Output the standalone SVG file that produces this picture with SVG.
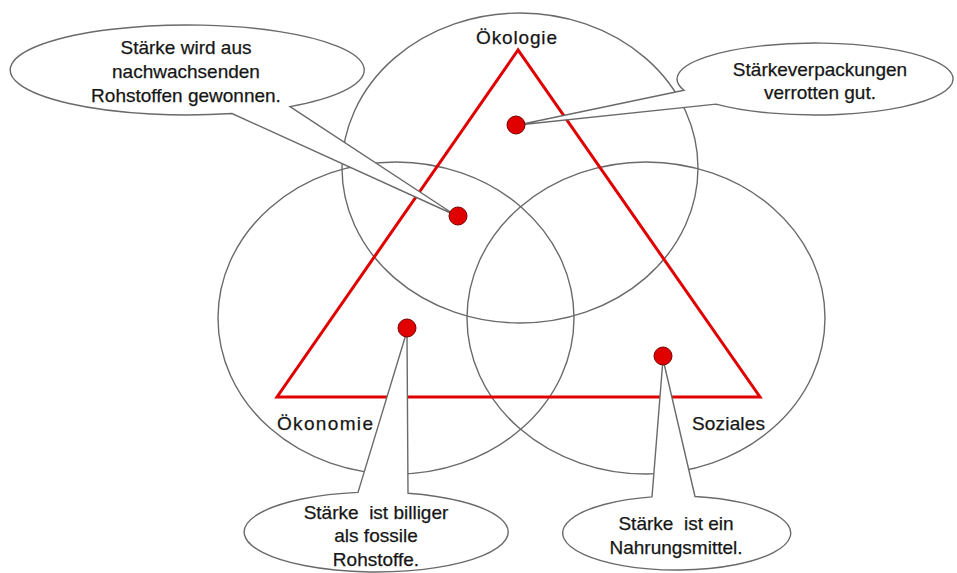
<svg xmlns="http://www.w3.org/2000/svg" width="957" height="573" viewBox="0 0 957 573">
<style>
.circ{fill:none;stroke:#6a6a6a;stroke-width:1.4}
.tri{fill:none;stroke:#e00000;stroke-width:3;stroke-linejoin:miter}
.call{fill:#fff;stroke:#6a6a6a;stroke-width:1.4;stroke-linejoin:miter}
.dot{fill:#e00000;stroke:#7a0000;stroke-width:1}
text{font-family:"Liberation Sans",Arial,sans-serif;font-size:19px;fill:#161616;stroke:#161616;stroke-width:0.25}
.c{text-anchor:middle}
</style>
<rect width="957" height="573" fill="#fff"/>
<g id="circles">
<ellipse id="circle-oekologie" class="circ" cx="520" cy="168" rx="178" ry="155"/>
<ellipse id="circle-oekonomie" class="circ" cx="396" cy="318" rx="178" ry="156"/>
<ellipse id="circle-soziales" class="circ" cx="646" cy="318" rx="179" ry="156"/>
</g>
<g id="triangle">
<polygon class="tri" points="518,50 277,397 760,397"/>
</g>
<g id="labels">
<text id="label-oekologie" x="476" y="44" textLength="81">Ökologie</text>
<text id="label-oekonomie" x="277" y="430" textLength="96">Ökonomie</text>
<text id="label-soziales" x="692" y="430" textLength="73">Soziales</text>
</g>
<g id="connectors">
<path id="callout1" class="call" d="M 290 106.6 L 455 215 L 232 113.5 A 177 45 0 1 1 290 106.6 Z"/>
<path id="callout2" class="call" d="M 684 90.3 L 518 125 L 716 104.1 A 138 36 0 1 0 684 90.3 Z"/>
<path id="callout3" class="call" d="M 358 492.4 L 407 331 L 408 493.2 A 132 40 0 1 1 358 492.4 Z"/>
<path id="callout4" class="call" d="M 652 496.9 L 663 359 L 695 496.5 A 114 37 0 1 1 652 496.9 Z"/>
</g>
<g id="node-rohstoffe">
<text class="c" x="186" y="54">Stärke wird aus</text>
<text class="c" x="186" y="78">nachwachsenden</text>
<text class="c" x="186" y="102">Rohstoffen gewonnen.</text>
<circle class="dot" cx="458" cy="216" r="9"/>
</g>
<g id="node-verpackungen">
<text class="c" x="820" y="76">Stärkeverpackungen</text>
<text class="c" x="820" y="99">verrotten gut.</text>
<circle class="dot" cx="516" cy="125" r="9"/>
</g>
<g id="node-billiger">
<text class="c" x="376" y="519" xml:space="preserve">Stärke  ist billiger</text>
<text class="c" x="376" y="542">als fossile</text>
<text class="c" x="376" y="566">Rohstoffe.</text>
<circle class="dot" cx="407" cy="328" r="9"/>
</g>
<g id="node-nahrungsmittel">
<text class="c" x="676" y="530" xml:space="preserve">Stärke  ist ein</text>
<text class="c" x="676" y="554">Nahrungsmittel.</text>
<circle class="dot" cx="663" cy="356" r="9"/>
</g>
</svg>
